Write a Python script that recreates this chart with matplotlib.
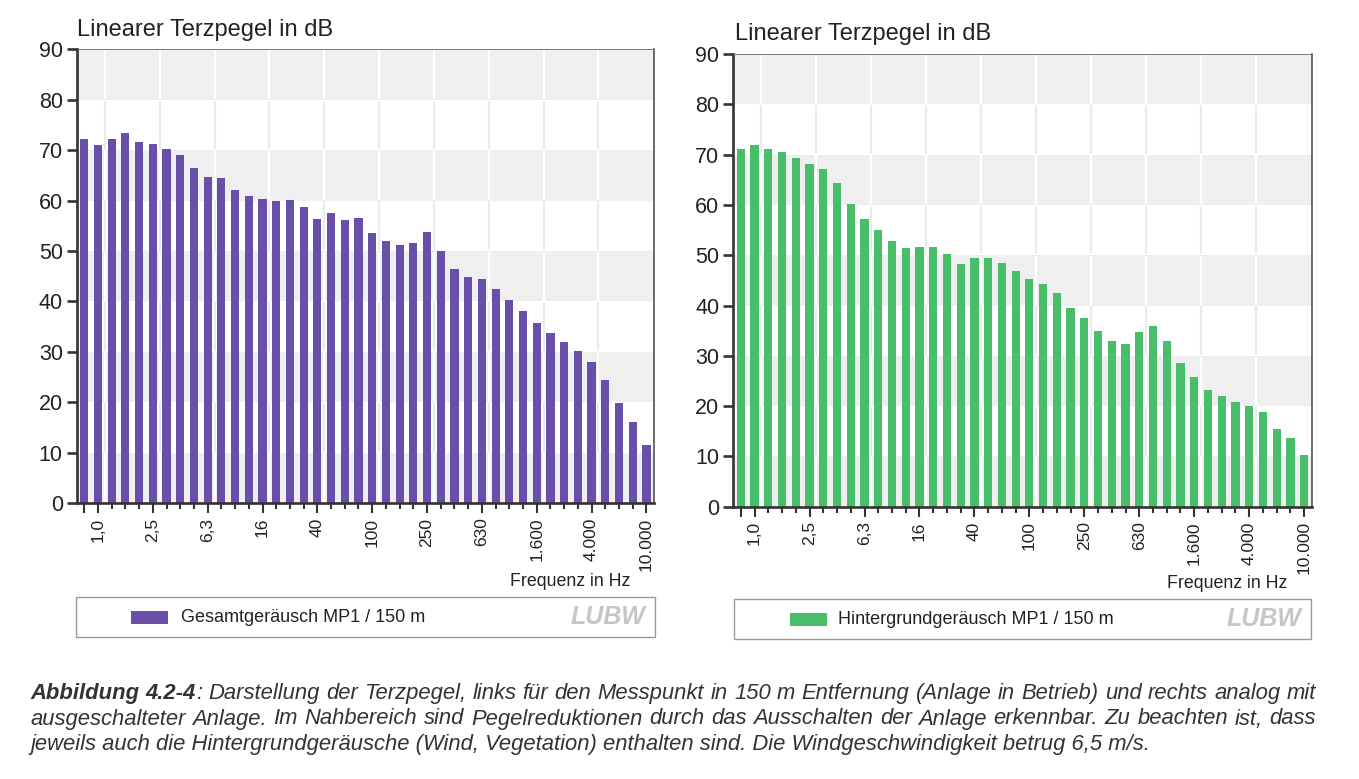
import numpy as np
import matplotlib
matplotlib.use('Agg')
import matplotlib.pyplot as plt
from matplotlib.patches import Rectangle

plt.rcParams['font.family'] = ['Liberation Sans', 'DejaVu Sans']

# third-octave band centre frequencies (Hz), 0.8 Hz ... 10 kHz
freqs = [0.8, 1, 1.25, 1.6, 2, 2.5, 3.15, 4, 5, 6.3, 8, 10, 12.5, 16, 20, 25,
         31.5, 40, 50, 63, 80, 100, 125, 160, 200, 250, 315, 400, 500, 630,
         800, 1000, 1250, 1600, 2000, 2500, 3150, 4000, 5000, 6300, 8000, 10000]

gesamt = [72.3, 71.0, 72.3, 73.5, 71.6, 71.3, 70.3, 69.1, 66.4, 64.6, 64.4,
          62.1, 60.9, 60.3, 59.9, 60.1, 58.7, 56.4, 57.5, 56.1, 56.5,
          53.5, 51.9, 51.2, 51.5, 53.7, 50.0, 46.5, 44.8, 44.4, 42.5,
          40.3, 38.0, 35.7, 33.7, 31.9, 30.2, 27.9, 24.5, 19.8, 16.0, 11.6]

hinter = [71.2, 72.0, 71.2, 70.6, 69.4, 68.1, 67.1, 64.4, 60.1, 57.1, 55.0,
          52.9, 51.5, 51.7, 51.7, 50.3, 48.3, 49.5, 49.5, 48.5, 46.9,
          45.2, 44.3, 42.4, 39.5, 37.6, 35.0, 32.9, 32.3, 34.8, 35.9,
          33.0, 28.6, 25.7, 23.3, 22.1, 20.9, 20.0, 18.8, 15.4, 13.6, 10.3]

tick_freqs = [1, 2.5, 6.3, 16, 40, 100, 250, 630, 1600, 4000, 10000]
tick_labels = ['1,0', '2,5', '6,3', '16', '40', '100', '250', '630',
               '1.600', '4.000', '10.000']

series_names = ['Gesamtgeräusch MP1 / 150 m', 'Hintergrundgeräusch MP1 / 150 m']
colors = ['#6a4fa9', '#48bd6a']

ink = '#222222'
band_grey = '#efefef'

fig = plt.figure(figsize=(13.59, 7.79), dpi=100)

W, H = 1359, 779
panels = [
    dict(box=(76.7, 49.4, 654, 503), title_xy=(77, 30), freq_x=630, freq_y=581,
         leg=(76, 597, 655, 637), patch_x=131, text_x=181),
    dict(box=(733.3, 54, 1311.7, 506.7), title_xy=(735, 34), freq_x=1287, freq_y=583,
         leg=(734, 599, 1311, 639), patch_x=790, text_x=838),
]

x = np.arange(len(freqs))
for p, vals, col, name in zip(panels, [gesamt, hinter], colors, series_names):
    x0, y0, x1, y1 = p['box']
    ax = fig.add_axes([x0 / W, 1 - y1 / H, (x1 - x0) / W, (y1 - y0) / H])
    ax.set_xlim(-0.55, len(freqs) - 0.45)
    ax.set_ylim(0, 90)

    # alternating background bands + vertical separators
    for b in range(9):
        grey = b % 2 == 0
        if grey:
            ax.axhspan(b * 10, b * 10 + 10, color=band_grey, lw=0, zorder=0)
        ax.vlines(np.arange(1.5, 40, 4), b * 10 + 0.15, b * 10 + 9.85,
                  colors='white' if grey else '#ebebeb', lw=1.6, zorder=0.5)

    ax.bar(x, vals, width=0.6, color=col, edgecolor='none', zorder=2)

    # axes styling
    ax.spines['left'].set_linewidth(1.9)
    ax.spines['left'].set_color('#333333')
    ax.spines['bottom'].set_linewidth(1.9)
    ax.spines['bottom'].set_color('#333333')
    ax.spines['right'].set_linewidth(1.1)
    ax.spines['right'].set_color('#444444')
    ax.spines['top'].set_linewidth(0.6)
    ax.spines['top'].set_color('#666666')
    for s in ax.spines.values():
        s.set_zorder(3)

    ax.set_yticks(np.arange(0, 91, 10))
    ax.tick_params(axis='y', length=7, width=1.9, color='#333333', pad=3,
                   labelsize=15.5, labelcolor=ink)

    tick_pos = [freqs.index(f) for f in tick_freqs]
    ax.set_xticks([0] + tick_pos)
    ax.set_xticklabels([''] + tick_labels, rotation=90)
    ax.set_xticks(x, minor=True)
    ax.tick_params(axis='x', which='major', length=7.5, width=1.5, color='#333333',
                   pad=3, labelsize=12.5, labelcolor=ink)
    ax.tick_params(axis='x', which='minor', length=4, width=1.5, color='#333333')

    # title and axis caption
    tx, ty = p['title_xy']
    fig.text(tx / W, 1 - ty / H, 'Linearer Terzpegel in dB', fontsize=17,
             color=ink, ha='left', va='center')
    fig.text(p['freq_x'] / W, 1 - p['freq_y'] / H, 'Frequenz in Hz', fontsize=12.8,
             color=ink, ha='right', va='center')

    # legend box
    lx0, ly0, lx1, ly1 = p['leg']
    fig.patches.append(Rectangle((lx0 / W, 1 - ly1 / H), (lx1 - lx0) / W, (ly1 - ly0) / H,
                                 transform=fig.transFigure, facecolor='white',
                                 edgecolor='#9a9a9a', lw=1.0))
    ym = (ly0 + ly1) / 2
    fig.patches.append(Rectangle((p['patch_x'] / W, 1 - (ym + 6.5) / H), 37 / W, 13 / H,
                                 transform=fig.transFigure, facecolor=col, lw=0))
    fig.text(p['text_x'] / W, 1 - ym / H, name, fontsize=13, color=ink,
             ha='left', va='center')
    fig.text((lx1 - 10) / W, 1 - ym / H, 'LUBW', fontsize=18, color='#c6c6c6',
             weight='bold', style='italic', ha='right', va='center')

# caption, justified lines
cap_fs = 15.8
cap_col = '#333333'
line1 = [('Abbildung', 'bold', False), ('4.2-4', 'bold', False), (':', 'normal', True)] + \
    [(w, 'normal', False) for w in
     'Darstellung der Terzpegel, links für den Messpunkt in 150 m Entfernung '
     '(Anlage in Betrieb) und rechts analog mit'.split()]
line2 = [(w, 'normal', False) for w in
         'ausgeschalteter Anlage. Im Nahbereich sind Pegelreduktionen durch das '
         'Ausschalten der Anlage erkennbar. Zu beachten ist, dass'.split()]
line3 = 'jeweils auch die Hintergrundgeräusche (Wind, Vegetation) enthalten sind. ' \
        'Die Windgeschwindigkeit betrug 6,5 m/s.'

renderer = fig.canvas.get_renderer()
cx0, cx1 = 30, 1316


def justify(words, yb):
    texts = []
    for w, wt, glue in words:
        t = fig.text(0, 1 - yb / H, w, fontsize=cap_fs, style='italic', weight=wt,
                     color=cap_col, ha='left', va='baseline')
        texts.append((t, glue))
    widths = [t.get_window_extent(renderer).width for t, _ in texts]
    n_gaps = sum(1 for _, g in texts[1:] if not g)
    gap = (cx1 - cx0 - sum(widths)) / n_gaps
    xp = cx0
    for (t, glue), wd in zip(texts, widths):
        if not glue and xp != cx0:
            xp += gap
        t.set_x(xp / W)
        xp += wd


justify(line1, 699)
justify(line2, 724.5)
fig.text(cx0 / W, 1 - 750 / H, line3, fontsize=cap_fs, style='italic',
         color=cap_col, ha='left', va='baseline')

fig.savefig('out.png', dpi=100)
